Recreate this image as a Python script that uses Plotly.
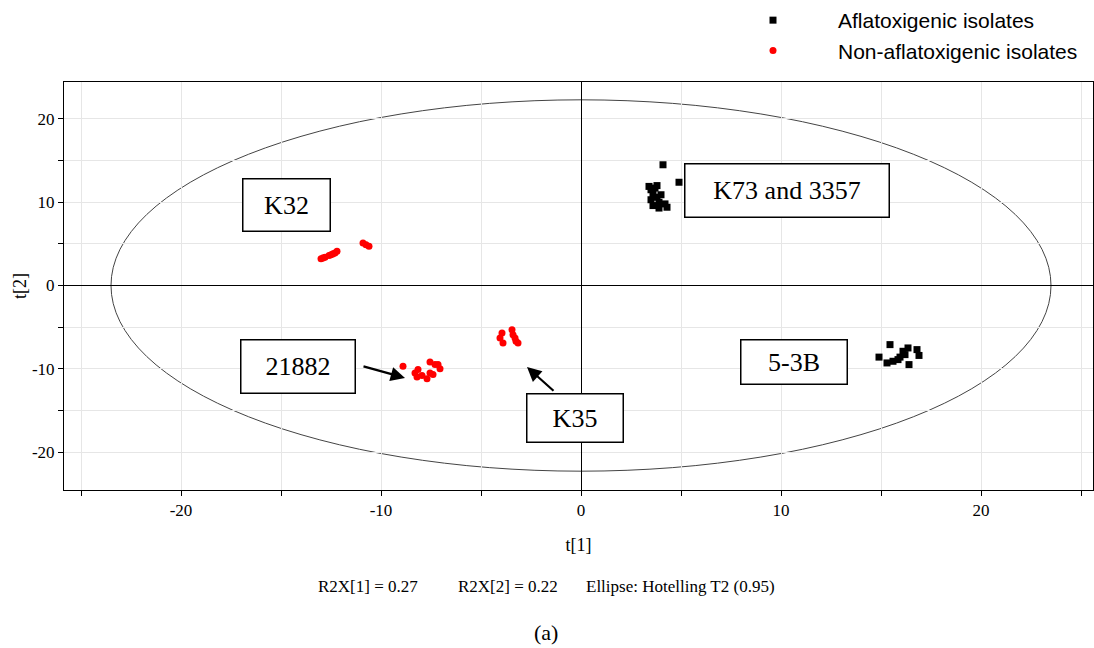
import plotly.graph_objects as go

# ---------------- data ----------------
afla_x = [3.4, 3.5, 3.7, 3.6, 3.8, 3.5, 4.0, 3.9, 3.6, 4.2, 4.3, 3.9, 3.8, 4.1, 4.9,
          14.9, 15.45, 15.3, 15.6, 15.95, 16.1, 16.35, 16.8, 16.9, 16.4, 16.2, 15.85]
afla_y = [11.9, 11.5, 11.7, 11.0, 10.6, 10.3, 10.9, 10.0, 9.6, 9.8, 9.4, 9.3, 12.0, 14.5, 12.4,
          -8.6, -7.1, -9.3, -9.1, -8.6, -7.9, -7.5, -7.7, -8.4, -9.5, -8.3, -8.9]

non_x = [-13.0, -12.8, -12.6, -12.4, -12.2, -12.9, -12.5, -12.3, -10.9, -10.75, -10.6,
         -8.9, -8.3, -8.2, -7.95, -7.7, -7.55, -7.55, -7.3, -7.05, -7.15, -7.4, -8.15,
         -3.95, -3.9, -4.05, -3.45, -3.3, -3.15, -3.4, -3.25]
non_y = [3.2, 3.4, 3.6, 3.8, 4.1, 3.3, 3.7, 3.9, 5.1, 4.9, 4.7,
         -9.7, -10.5, -11.0, -10.8, -11.2, -10.5, -9.2, -9.5, -10.0, -9.5, -10.7, -10.1,
         -5.7, -6.9, -6.3, -5.3, -6.3, -6.9, -5.9, -6.7]

series_names = ["Aflatoxigenic isolates", "Non-aflatoxigenic isolates"]
group_labels = ["K32", "K73 and 3357", "21882", "K35", "5-3B"]
tick_values = [-25, -20, -15, -10, -5, 0, 5, 10, 15, 20, 25]
tick_labels = ["", "-20", "", "-10", "", "0", "", "10", "", "20", ""]
y_tick_values = [-20, -15, -10, -5, 0, 5, 10, 15, 20]
y_tick_labels = ["-20", "", "-10", "", "0", "", "10", "", "20"]
ellipse_a = 23.5
ellipse_b = 22.3
footer_texts = ["R2X[1] = 0.27", "R2X[2] = 0.22", "Ellipse: Hotelling T2 (0.95)"]

# ---------------- figure ----------------
serif = "Liberation Serif, Times New Roman, serif"
sans = "Liberation Sans, Arial, sans-serif"

W, H = 1094, 648
ML, MR, MT, MB = 64, 1, 82, 158
PW, PH = W - ML - MR, H - MT - MB


def px_to_paper(px, py):
    return (px - ML) / PW, (H - MB - py) / PH


fig = go.Figure()
fig.add_trace(go.Scatter(x=afla_x, y=afla_y, mode="markers", name=series_names[0],
                         marker=dict(symbol="square", size=7, color="black")))
fig.add_trace(go.Scatter(x=non_x, y=non_y, mode="markers", name=series_names[1],
                         marker=dict(symbol="circle", size=7, color="#ff0000")))

fig.add_shape(type="circle", xref="x", yref="y", x0=-ellipse_a, x1=ellipse_a,
              y0=-ellipse_b, y1=ellipse_b, line=dict(color="#444444", width=1), layer="below")

# label boxes (centre x, centre y, box width px, box height px)
box_layout = [(-14.73, 9.67, 89, 54), (10.3, 11.41, 206, 55), (-14.15, -9.73, 116, 55),
              (-0.3, -15.92, 98, 50), (10.65, -9.19, 108, 46)]
for text, (bx, by, bw, bh) in zip(group_labels, box_layout):
    fig.add_annotation(x=bx, y=by, xref="x", yref="y", text=text, showarrow=False,
                       font=dict(family=serif, size=26, color="black"),
                       bgcolor="white", bordercolor="black", borderwidth=1.5, borderpad=0,
                       width=bw - 3, height=bh - 3, align="center", valign="middle")

# arrows (head x, head y, tail x, tail y)
arrows = [(-8.8, -11.1, -10.95, -9.67), (-2.7, -9.79, -1.3, -12.8)]
for hx, hy, tx, ty in arrows:
    fig.add_annotation(x=hx, y=hy, ax=tx, ay=ty, xref="x", yref="y", axref="x", ayref="y",
                       text="", showarrow=True, arrowhead=2, arrowsize=1.3, arrowwidth=2.2,
                       arrowcolor="black")

# footer
for text, px in zip(footer_texts, [367.5, 508, 680.5]):
    fx, fy = px_to_paper(px, 586)
    fig.add_annotation(x=fx, y=fy, xref="paper", yref="paper", xanchor="center", yanchor="middle",
                       text=text, showarrow=False, font=dict(family=serif, size=17, color="black"))
fx, fy = px_to_paper(546, 632)
fig.add_annotation(x=fx, y=fy, xref="paper", yref="paper", xanchor="center", yanchor="middle",
                   text="(a)", showarrow=False, font=dict(family=serif, size=22, color="black"))

axis_common = dict(showgrid=True, gridcolor="#e6e6e6", gridwidth=1,
                   zeroline=True, zerolinecolor="black", zerolinewidth=1,
                   showline=True, linecolor="black", linewidth=1, mirror=True,
                   ticks="outside", ticklen=5, tickcolor="black",
                   tickfont=dict(family=serif, size=17, color="black"))

fig.update_layout(
    width=W, height=H,
    margin=dict(l=ML, r=MR, t=MT, b=MB, autoexpand=False),
    paper_bgcolor="white", plot_bgcolor="white",
    xaxis=dict(range=[-25.85, 25.6], tickmode="array", tickvals=tick_values,
               ticktext=tick_labels,
               title=dict(text="t[1]", font=dict(family=serif, size=18, color="black"), standoff=18),
               **axis_common),
    yaxis=dict(range=[-24.56, 24.44], tickmode="array", tickvals=y_tick_values,
               ticktext=y_tick_labels,
               title=dict(text="t[2]", font=dict(family=serif, size=18, color="black"), standoff=0),
               **axis_common),
    legend=dict(xref="container", yref="container", x=708 / W, y=1.018, xanchor="left", yanchor="top",
                font=dict(family=sans, size=21, color="black"), itemwidth=120,
                bgcolor="rgba(0,0,0,0)", tracegroupgap=0),
    showlegend=True,
)

fig.write_html("out.html")
